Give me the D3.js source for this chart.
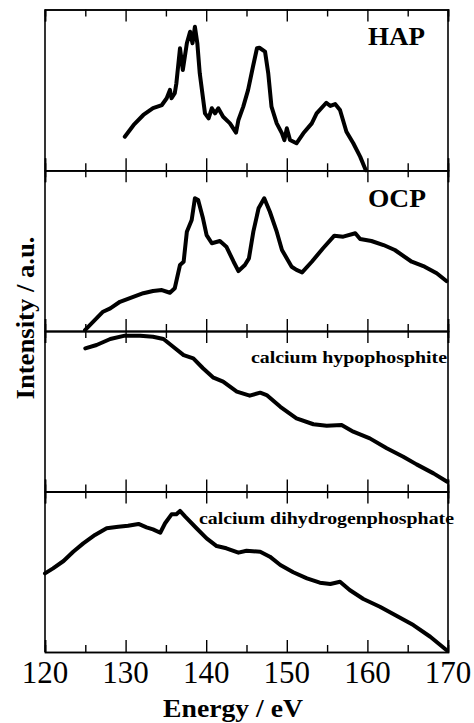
<!DOCTYPE html>
<html>
<head>
<meta charset="utf-8">
<script src="https://cdn.jsdelivr.net/npm/d3@7"></script>
<style>
  body { margin: 0; background: #fff; }
  text { font-family: "Liberation Serif", "Times New Roman", serif; }
</style>
</head>
<body>
<script>
// Stacked XAS spectra, 4 panels sharing one energy axis

const width = 474;
const height = 723;

const xTicksMajor = [120, 130, 140, 150, 160, 170];
const xTicksMinor = [125, 135, 145, 155, 165];

const panelNames = ["HAP", "OCP", "calcium hypophosphite", "calcium dihydrogenphosphate"];

// energies (eV) and intensities (0 = panel bottom, 1 = panel top)
const hapE = [129.9,131.0,132.2,133.4,134.5,135.1,135.5,135.7,136.1,136.3,136.75,137.1,137.6,138.0,138.3,138.6,138.9,139.2,139.85,140.3,140.7,141.1,141.5,142.1,142.95,143.7,144.0,144.6,145.2,145.8,146.3,146.6,147.3,147.7,148.1,148.75,149.4,149.7,150.0,150.4,151.2,152.05,153.1,153.7,154.9,155.4,156.0,156.6,157.4,158.25,159.1,159.8];
const hapI = [0.209,0.282,0.344,0.386,0.406,0.448,0.500,0.448,0.479,0.541,0.759,0.624,0.790,0.862,0.790,0.893,0.790,0.603,0.354,0.323,0.386,0.354,0.386,0.333,0.292,0.234,0.313,0.396,0.500,0.644,0.759,0.762,0.738,0.603,0.396,0.292,0.230,0.188,0.261,0.188,0.168,0.230,0.292,0.354,0.420,0.400,0.412,0.375,0.240,0.168,0.085,0.0];

const ocpE = [124.96,127.2,128.1,129.3,130.95,132.2,133.4,134.5,135.5,136.1,136.75,137.2,137.6,138.2,138.6,139.0,139.6,140.05,140.7,141.7,142.5,143.4,144.0,144.8,145.3,145.85,146.5,147.2,147.9,148.75,149.4,150.6,151.2,151.9,153.1,154.5,155.9,157.0,158.5,159.1,160.5,162.0,163.4,165.5,167.1,168.6,169.8];
const ocpI = [0.006,0.120,0.141,0.182,0.213,0.235,0.249,0.255,0.238,0.266,0.411,0.431,0.618,0.691,0.826,0.815,0.701,0.597,0.546,0.560,0.525,0.431,0.373,0.411,0.452,0.618,0.764,0.826,0.742,0.618,0.504,0.400,0.380,0.365,0.431,0.515,0.593,0.587,0.608,0.572,0.560,0.535,0.504,0.431,0.400,0.359,0.311];

const hypoE = [125.0,126.4,128.1,129.9,131.8,133.4,134.7,135.9,137.2,138.4,139.6,140.9,142.1,143.8,145.4,146.7,147.5,149.2,151.2,153.3,154.95,156.8,158.25,160.3,162.4,164.45,166.1,168.2,169.9];
const hypoI = [0.892,0.913,0.950,0.971,0.971,0.964,0.950,0.902,0.850,0.830,0.768,0.709,0.684,0.622,0.597,0.616,0.601,0.528,0.456,0.419,0.410,0.414,0.373,0.331,0.269,0.217,0.169,0.113,0.061];

const dihyE = [120.0,121.0,122.3,123.5,124.75,126.2,127.65,129.1,130.3,131.6,132.6,133.4,134.3,134.9,135.7,136.3,136.75,137.4,138.8,140.05,141.3,142.5,144.0,145.0,146.7,147.9,149.2,150.8,152.5,154.1,155.4,156.6,157.8,159.5,161.55,163.6,165.7,167.8,169.8];
const dihyI = [0.490,0.521,0.567,0.625,0.677,0.729,0.771,0.781,0.787,0.798,0.777,0.764,0.743,0.802,0.858,0.858,0.879,0.843,0.771,0.708,0.660,0.646,0.619,0.631,0.625,0.594,0.542,0.497,0.459,0.432,0.424,0.438,0.386,0.330,0.282,0.226,0.168,0.095,0.012];

const spectra = [[hapE, hapI], [ocpE, ocpI], [hypoE, hypoI], [dihyE, dihyI]];

const left = 45, right = 448;
const boundaries = [9.5, 170.3, 331, 491.5, 652];

const svg = d3.select("body")
    .append("svg")
    .attr("width", width)
    .attr("height", height);

const x = d3.scaleLinear()
    .domain([120, 170])
    .range([left, right]);

// ticks on every horizontal line, pointing into the panel(s) next to it
boundaries.forEach(function(by, i) {
    if (i > 0) {
        svg.append("g").attr("transform", "translate(0," + by + ")")
            .call(d3.axisTop(x).tickValues(xTicksMajor).tickSize(12).tickFormat(""));
        svg.append("g").attr("transform", "translate(0," + by + ")")
            .call(d3.axisTop(x).tickValues(xTicksMinor).tickSize(7).tickFormat(""));
    }
    if (i < boundaries.length - 1) {
        svg.append("g").attr("transform", "translate(0," + by + ")")
            .call(d3.axisBottom(x).tickValues(xTicksMajor).tickSize(12).tickFormat(""));
        svg.append("g").attr("transform", "translate(0," + by + ")")
            .call(d3.axisBottom(x).tickValues(xTicksMinor).tickSize(7).tickFormat(""));
    }
});

svg.selectAll(".domain").attr("stroke-width", 1.6);
svg.selectAll(".tick line").attr("stroke-width", 1.4);

// side frame lines
[120, 170].forEach(function(v) {
    svg.append("line")
        .attr("x1", x(v)).attr("x2", x(v))
        .attr("y1", boundaries[0]).attr("y2", boundaries[4])
        .attr("stroke", "#000")
        .attr("stroke-width", 1.6);
});

// spectra
spectra.forEach(function(s, i) {
    const y = d3.scaleLinear()
        .domain([0, 1])
        .range([boundaries[i + 1], boundaries[i]]);

    const line = d3.line()
        .x(d => x(d[0]))
        .y(d => y(d[1]));

    svg.append("path")
        .datum(d3.zip(s[0], s[1]))
        .attr("d", line)
        .attr("fill", "none")
        .attr("stroke", "#000")
        .attr("stroke-width", 4)
        .attr("stroke-linejoin", "round")
        .attr("stroke-linecap", "round");
});

// panel labels
const labelPos = [
    {x: 425, y: 45, size: 26, len: 57},
    {x: 426, y: 206.7, size: 26, len: 58},
    {x: 447, y: 363, size: 17, len: 196},
    {x: 454, y: 524, size: 17, len: 255}
];
panelNames.forEach(function(name, i) {
    svg.append("text")
        .attr("x", labelPos[i].x)
        .attr("y", labelPos[i].y)
        .attr("text-anchor", "end")
        .attr("font-weight", "bold")
        .attr("font-size", labelPos[i].size)
        .attr("textLength", labelPos[i].len)
        .attr("lengthAdjust", "spacingAndGlyphs")
        .text(name);
});

// tick labels
svg.selectAll(".xlabel")
    .data(xTicksMajor)
    .enter()
    .append("text")
    .attr("class", "xlabel")
    .attr("x", d => x(d))
    .attr("y", 683)
    .attr("text-anchor", "middle")
    .attr("font-size", 31)
    .text(d => d);

svg.append("text")
    .attr("x", 233)
    .attr("y", 717)
    .attr("text-anchor", "middle")
    .attr("font-weight", "bold")
    .attr("font-size", 25)
    .attr("textLength", 140)
    .attr("lengthAdjust", "spacingAndGlyphs")
    .text("Energy / eV");

svg.append("text")
    .attr("transform", "translate(34,318) rotate(-90)")
    .attr("text-anchor", "middle")
    .attr("font-weight", "bold")
    .attr("font-size", 25)
    .attr("textLength", 163)
    .attr("lengthAdjust", "spacingAndGlyphs")
    .text("Intensity / a.u.");
</script>
</body>
</html>
